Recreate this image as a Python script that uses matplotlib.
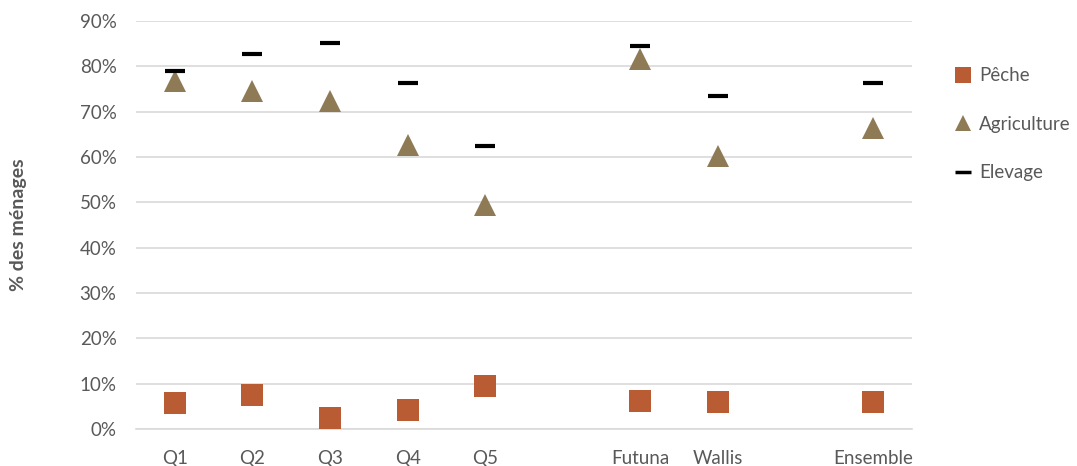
import numpy as np
import matplotlib
matplotlib.use("Agg")
import matplotlib.pyplot as plt
from matplotlib.ticker import PercentFormatter

plt.rcParams['font.family'] = ['Lato', 'DejaVu Sans']

categories = ["Q1", "Q2", "Q3", "Q4", "Q5", "", "Futuna", "Wallis", "", "Ensemble"]
peche = [5.7, 7.6, 2.5, 4.3, 9.4, np.nan, 6.1, 5.9, np.nan, 6.0]
agriculture = [76.8, 74.5, 72.3, 62.7, 49.4, np.nan, 81.6, 60.3, np.nan, 66.4]
elevage = [79.0, 82.8, 85.2, 76.4, 62.5, np.nan, 84.4, 73.4, np.nan, 76.4]

text_color = "#595959"
grid_color = "#D9D9D9"

fig = plt.figure(figsize=(10.77, 4.66), dpi=100)
ax = fig.add_axes([0.1263, 0.0794, 0.7205, 0.8756])

x = np.arange(len(categories))
ax.plot(x, peche, linestyle="none", marker="s", markersize=15.8,
        color="#B95B33", markeredgewidth=0, label="Pêche", zorder=3)
ax.plot(x, agriculture, linestyle="none", marker="^", markersize=15.5,
        color="#8E7A55", markeredgewidth=0, label="Agriculture", zorder=3)
ax.plot(x, elevage, linestyle="none", marker="_", markersize=15.0,
        color="black", markeredgewidth=3.0, label="Elevage", zorder=4)

ax.set_xlim(-0.5, len(categories) - 0.5)
ax.set_ylim(0, 90)
ax.set_yticks(np.arange(0, 91, 10))
ax.yaxis.set_major_formatter(PercentFormatter(decimals=0))
ax.set_xticks(x)
ax.set_xticklabels(categories)

ax.grid(axis="y", color=grid_color, linewidth=1.2, zorder=0)
ax.set_axisbelow(True)
for side in ["left", "right", "top"]:
    ax.spines[side].set_visible(False)
ax.spines["bottom"].set_color(grid_color)
ax.spines["bottom"].set_linewidth(1.2)
ax.tick_params(axis="both", length=0, labelsize=13.5, colors=text_color)
ax.tick_params(axis="y", pad=14)
ax.tick_params(axis="x", pad=15)

ax.set_ylabel("% des ménages", fontsize=14, fontweight="bold",
              color=text_color, labelpad=38)

leg = ax.legend(loc="upper left", bbox_to_anchor=(1.045, 0.905), frameon=False,
                fontsize=13.5, labelspacing=1.68, handlelength=0.9,
                handletextpad=0.4, borderaxespad=0)
for t in leg.get_texts():
    t.set_color(text_color)
for h in leg.legend_handles:
    h.set_markersize(11)
leg.legend_handles[2].set_markeredgewidth(2.5)

fig.savefig("out.png", dpi=100)
